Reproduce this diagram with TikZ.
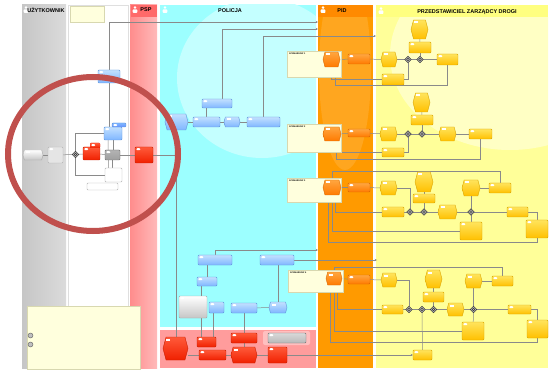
\documentclass[tikz,border=0pt]{standalone}
\usepackage{fontspec}
\setmainfont{Liberation Sans}
\usetikzlibrary{shapes.symbols,shapes.geometric,arrows.meta}
\pgfdeclarelayer{lanes}
\pgfdeclarelayer{edges}
\pgfdeclarelayer{front}
\pgfsetlayers{lanes,edges,main,front}
\definecolor{ytop}{HTML}{FFE45C}\definecolor{ybot}{HTML}{FFC000}\definecolor{ybd}{HTML}{D9A400}
\definecolor{otop}{HTML}{FFA640}\definecolor{obot}{HTML}{FF7A00}\definecolor{obd}{HTML}{D96800}
\definecolor{btop}{HTML}{C2E0FF}\definecolor{bbot}{HTML}{7FB6FF}\definecolor{bbd}{HTML}{5F95DA}
\definecolor{rtop}{HTML}{FF5A3A}\definecolor{rbot}{HTML}{F02000}\definecolor{rbd}{HTML}{C81E00}
\definecolor{gtop}{HTML}{C4C4C4}\definecolor{gbot}{HTML}{8C8C8C}\definecolor{gbd}{HTML}{707070}
\definecolor{notef}{HTML}{FFFFDD}\definecolor{notebd}{HTML}{D8D8B0}
\definecolor{lnc}{HTML}{8A8A8A}
\definecolor{circ}{HTML}{C0504D}
\definecolor{polc}{HTML}{9CFFFF}\definecolor{polh}{HTML}{C4FFFF}
\definecolor{pspc}{HTML}{FF9C9C}\definecolor{psph}{HTML}{FF6A6A}
\definecolor{pidc}{HTML}{FF9A00}\definecolor{pidh}{HTML}{FF8A00}
\definecolor{pzdc}{HTML}{FFFF99}\definecolor{pzdl}{HTML}{FFFFC4}\definecolor{pzdh}{HTML}{FFFF80}
\newcommand\bx[6]{\node[#1, minimum width={#5-#3}, minimum height={#6-#4}] (#2) at ({(#3+#5)/2},{(#4+#6)/2}) {};}
\newcommand\gwn[3]{\node[gwy] (#1) at (#2,#3) {};}
\newcommand\person[2]{\fill[white] (#1,#2-2.4) circle (1.4pt); \fill[white,rounded corners=0.8pt] (#1-2.3,#2-0.6) rectangle (#1+2.3,#2+3);}
\tikzset{
  base/.style={inner sep=0pt, outer sep=0pt, line width=0.4pt},
  icon/.style={path picture={\fill[white] ([xshift=1.3pt,yshift=-1.2pt]path picture bounding box.north west) rectangle ++(4pt,-2pt);}},
  iconh/.style={path picture={\fill[white] ([xshift=2.5pt,yshift=-1.5pt]path picture bounding box.north west) rectangle ++(4pt,-2pt);}},
  hexs/.style={signal, signal to=east and west, signal pointer angle=150},
  ytask/.style={base, rounded corners=1pt, draw=ybd, top color=ytop, bottom color=ybot, icon},
  yev/.style={base, hexs, draw=ybd, top color=ytop, bottom color=ybot, iconh},
  otask/.style={base, rounded corners=1pt, draw=obd, top color=otop, bottom color=obot, icon},
  oev/.style={base, hexs, draw=obd, top color=otop, bottom color=obot, iconh},
  btask/.style={base, rounded corners=1pt, draw=bbd, top color=btop, bottom color=bbot, icon},
  bev/.style={base, hexs, draw=bbd, top color=btop, bottom color=bbot, iconh},
  rtask/.style={base, rounded corners=1pt, draw=rbd, top color=rtop, bottom color=rbot, icon},
  rev/.style={base, hexs, draw=rbd, top color=rtop, bottom color=rbot, iconh},
  gtask/.style={base, rounded corners=1pt, draw=gbd, top color=gtop, bottom color=gbot, icon},
  gev/.style={base, hexs, draw=gray!70, top color=white, bottom color=gray!45, iconh},
  wtask/.style={base, rounded corners=1pt, draw=gray!60, fill=white},
  note/.style={base, draw=notebd, fill=notef},
  gwy/.style={base, diamond, minimum size=6.5pt, draw=gray!50!black, fill=gray!55,
     path picture={\draw[gray!30!black, line width=0.4pt] (path picture bounding box.center) circle (1.3pt);}},
  gear/.style={base, circle, minimum size=5pt, draw=gray!70!black, fill=gray!50},
  ln/.style={draw=lnc, line width=0.5pt},
  ar/.style={ln, -{Stealth[length=2.4pt,width=2.2pt]}},
  hdr/.style={inner sep=0pt, font=\bfseries\fontsize{5.5}{6}\selectfont},
  sct/.style={inner sep=0pt, anchor=north west, font=\bfseries\fontsize{2.2}{2.6}\selectfont}
}
\begin{document}
\begin{tikzpicture}[x=1pt,y=-1pt]
\useasboundingbox (0,0) rectangle (551,371);
\begin{pgfonlayer}{lanes}
\fill[white] (0,0) rectangle (551,371);
% UZYTKOWNIK lane
\shade[left color=gray!45, right color=gray!28] (22,5) rectangle (66,368);
% white lane
\draw[gray!25, fill=white] (68,5) rectangle (128,368);
% PSP lane
\shade[left color=pspc!90!red, right color=pspc!70!white] (130,5) rectangle (157,368);
\fill[psph] (131,5) rectangle (157,17);
% Policja
\fill[polc] (160,5) rectangle (316,327);
\begin{scope}
\clip (160,5) rectangle (316,327);
\fill[polh] (262,78) ellipse [x radius=85pt, y radius=80pt];
\end{scope}
\fill[pspc] (160,330) rectangle (316,368);
% PID
\fill[pidc] (318,5) rectangle (373,368);
\begin{scope}
\clip (318,18) rectangle (373,368);
\fill[white, opacity=0.12] (345,70) ellipse [x radius=26pt, y radius=100pt];
\end{scope}
\fill[pidh] (318,5) rectangle (373,17);
% PZD
\fill[pzdc] (376,5) rectangle (548,368);
\begin{scope}
\clip (376,18) rectangle (548,368);
\fill[pzdl] (510,55) ellipse [x radius=120pt, y radius=95pt];
\end{scope}
\fill[pzdh] (376,5) rectangle (548,17);
% header icons
\person{26}{10}
\person{135}{10}
\person{165}{10}
\person{323}{10}
\person{381}{11}
\end{pgfonlayer}

% headers
\node[hdr] (hU) at (46,10) {UŻYTKOWNIK};
\node[hdr] (hP) at (146,10) {PSP};
\node[hdr] (hPol) at (230,11) {POLICJA};
\node[hdr] (hPID) at (342,11) {PID};
\node[hdr] (hZ) at (467,12) {PRZEDSTAWICIEL ZARZĄDCY DROGI};

% top note in white lane
\bx{note}{tn}{70}{6}{104}{22}

% left region
\bx{gev}{u1}{23}{150}{43}{160}
\bx{wtask, fill=gray!20, icon}{u2}{48}{147}{63}{163}
\gwn{g0}{75.5}{154.5}
\bx{rtask}{w1}{83}{147}{100}{160}
\bx{rtask, draw=none, fill=red!90!black}{wl}{90}{143}{100}{148}
\bx{gtask, top color=gray!60, bottom color=gray!75}{w2}{105}{150}{120}{160}
\bx{btask}{w3}{104}{127}{122}{140}
\bx{btask, top color=bbot, bottom color=bbot!80!blue}{w3l}{112}{123}{126}{127}
\bx{wtask, icon}{w4}{105}{168}{122}{182}
\bx{wtask}{w4l}{87}{183}{118}{190}
\bx{btask}{w5}{98}{70}{120}{83}
\bx{rtask}{p1}{135}{147}{153}{163}

% Policja upper
\bx{bev}{c1}{165}{114}{188}{130}
\bx{btask}{c2}{193}{117}{220}{127}
\bx{bev}{c3}{224}{117}{240}{127}
\bx{btask}{c4}{247}{117}{280}{127}
\bx{btask}{c5}{202}{99}{232}{108}
% Policja lower
\bx{btask}{c6}{198}{255}{232}{265}
\bx{btask}{c7}{260}{255}{294}{265}
\bx{btask}{c8}{197}{277}{217}{286}
\bx{base, rounded corners=1pt, draw=gray!70, top color=white, bottom color=gray!45, icon}{c9}{179}{296}{207}{318}
\bx{btask}{c10}{209}{302}{224}{313}
\bx{btask}{c11}{231}{303}{257}{313}
\bx{bev}{c12}{269}{302}{287}{313}
% pink area
\fill[red!25, rounded corners=2pt] (263,331) rectangle (310,345);
\bx{rev}{r1}{163}{337}{188}{360}
\bx{rtask}{r2}{197}{337}{216}{347}
\bx{rtask}{r3}{199}{350}{226}{360}
\bx{rtask}{r4}{231}{333}{257}{343}
\bx{rev}{r5}{231}{347}{257}{363}
\bx{rtask}{r6}{268}{347}{287}{363}
\bx{gtask, top color=gray!30, bottom color=gray!55}{r7}{268}{333}{306}{343}

% scenario notes
\bx{note}{n1}{287}{51}{341}{77}
\node[sct] (s1) at (289,53) {SCENARIUSZ 1};
\bx{oev}{o1}{323}{52}{340}{67}
\bx{otask}{o1b}{348}{54}{370}{64}
\bx{note}{n2}{287}{124}{341}{152}
\node[sct] (s2) at (289,126) {SCENARIUSZ 2};
\bx{oev}{o2}{323}{127}{341}{141}
\bx{otask}{o2b}{348}{129}{370}{137}
\bx{note}{n3}{287}{178}{341}{202}
\node[sct] (s3) at (289,180) {SCENARIUSZ 3};
\bx{oev}{o3}{323}{180}{341}{195}
\bx{otask}{o3b}{348}{183}{370}{192}
\bx{note}{n4}{288}{270}{343}{292}
\node[sct] (s4) at (290,272) {SCENARIUSZ 4};
\bx{oev}{o4}{326}{272}{342}{285}
\bx{otask}{o4b}{348}{275}{370}{284}

% PZD row 1
\bx{yev}{a1}{381}{52}{397}{67}
\gwn{ga1}{408}{59.5}
\gwn{ga2}{420}{59.5}
\bx{ytask}{a2}{437}{54}{458}{65}
\bx{yev}{a3}{411}{20}{428}{39}
\bx{ytask}{a4}{409}{42}{431}{53}
\bx{ytask}{a5}{382}{74}{404}{85}
% PZD row 2
\bx{yev}{b1}{380}{127}{397}{141}
\gwn{gb1}{408}{134}
\gwn{gb2}{422}{134}
\bx{yev}{b2}{439}{127}{456}{141}
\bx{ytask}{b3}{469}{129}{492}{139}
\bx{yev}{b4}{413}{93}{430}{112}
\bx{ytask}{b5}{411}{115}{433}{125}
\bx{ytask}{b6}{382}{148}{404}{157}
% PZD row 3
\bx{yev}{d1}{380}{181}{397}{195}
\bx{ytask}{d2}{382}{207}{404}{217}
\gwn{gd1}{410}{212}
\gwn{gd2}{424}{212}
\bx{yev}{d3}{415}{172}{433}{192}
\bx{ytask}{d4}{413}{194}{435}{203}
\bx{yev}{d5}{438}{205}{457}{219}
\gwn{gd3}{471}{212}
\bx{yev}{d6}{462}{180}{480}{196}
\bx{ytask}{d7}{489}{183}{511}{193}
\bx{ytask}{d8}{507}{207}{528}{217}
\bx{ytask}{d9}{526}{220}{548}{238}
\bx{ytask}{d10}{460}{222}{482}{240}
% PZD row 4
\bx{yev}{e1}{381}{273}{397}{287}
\bx{ytask}{e2}{382}{305}{403}{314}
\gwn{ge1}{409}{309.5}
\gwn{ge2}{422}{309.5}
\gwn{ge3}{433.5}{309.5}
\bx{yev}{e3}{425}{270}{442}{288}
\bx{ytask}{e4}{423}{292}{444}{302}
\bx{yev}{e5}{447}{303}{464}{316}
\gwn{ge4}{473.5}{309.5}
\bx{yev}{e6}{465}{274}{482}{288}
\bx{ytask}{e7}{492}{276}{513}{286}
\bx{ytask}{e8}{508}{305}{531}{314}
\bx{ytask}{e9}{527}{320}{548}{338}
\bx{ytask}{e10}{462}{322}{484}{340}
\bx{ytask}{z4k}{413}{350}{432}{360}

% legend
\bx{note}{L}{27}{306}{140}{369}
\node[gear] (lg1) at (30.5,335.5) {};
\node[gear] (lg2) at (30.5,344.5) {};

% free ends
\coordinate (eA) at (318,22);
\coordinate (eB) at (318,29);
\coordinate (eC) at (376,36);
\coordinate (eD) at (318,250);
\coordinate (eE) at (377,260);

\begin{pgfonlayer}{edges}
% left
\draw[ln] (u1) -- (u2);
\draw[ln] (u2) -- (g0);
\draw[ln] (g0) -- (w1);
\draw[ln] (w1) -- (w2);
\draw[ln] (w2) -- (p1);
\draw[ln] (p1) -- (p1 -| c1.south);
\draw[ln] (g0.north) |- (w3.west);
\draw[ln] (g0.south) |- (w4.west);
\draw[ar] (w5.north) |- (eA);
\draw[ln] (w5.south) -- (w5.south |- w3.north);
\draw[ln] (w3.south) -- (w3.south |- w2.north);
\draw[ln] (w2.south) -- (w2.south |- w4.north);
\draw[ln] ([xshift=-5pt]w3.south) -- ([xshift=-5pt]w4.north);
% Policja
\draw[ln] (c1) -- (c2);
\draw[ln] (c2) -- (c3);
\draw[ln] (c3) -- (c4);
\draw[ln] (c2.north) -- (c2.north |- c5.south);
\draw[ar] ([xshift=5pt]c5.north) |- (eB);
\draw[ar] (c4.north) |- (eC);
\draw[ln] (c1.south) -- (c1.south |- r1.north);
\draw[ar] (c6.north) |- (eD);
\draw[ar] (c7.east) -- (eE);
\draw[ln] (c8.north) -- (c8.north |- c6.south);
\draw[ln] (c12.north) -- (c12.north |- c7.south);
\draw[ln] (c11) -- (c12);
\draw[ln] ([xshift=-6pt]c8.south) -- ([xshift=-6pt]c8.south |- r2.north);
\draw[ln] ([xshift=-3.5pt]c10.south) -- ([xshift=-3.5pt]c10.south |- r2.north);
\draw[ln] (c11.south) -- (c11.south |- r4.north);
\draw[ln] (r4) -- (r5);
\draw[ln] (r3.west -| r1.east) -- (r3.west);
\draw[ln] (r3) -- (r5);
\draw[ln] (r5) -- (r6);
\draw[ar] (r6) -- (z4k);
% row 1
\draw[ln] (o1) -- (o1b);
\draw[ln] (o1b) -- (a1);
\draw[ln] (a1) -- (ga1);
\draw[ln] (ga1) -- (ga2);
\draw[ln] (ga2) -- (a2);
\draw[ln] (a3) -- (a4);
\draw[ln] (a4) -- (ga2);
\draw[ln] (ga1.south) |- (a5.east);
\draw[ln] (a5.west) -| (o1.south);
\draw[ln] (a2.south) -- (a2.south |- 0,85) -| ([xshift=4pt]o1.south);
% row 2
\draw[ln] (o2) -- (o2b);
\draw[ln] (o2b) -- (b1);
\draw[ln] (b1) -- (gb1);
\draw[ln] (gb1) -- (gb2);
\draw[ln] (gb2) -- (b2);
\draw[ln] (b2) -- (b3);
\draw[ln] (b4) -- (b5);
\draw[ln] (b5) -- (gb2);
\draw[ln] (gb1.south) |- (b6.east);
\draw[ln] (b6.west) -| (o2.south);
\draw[ln] (b3.south) -- (b3.south |- 0,159) -| ([xshift=4pt]o2.south);
% row 3
\draw[ln] (o3) -- (o3b);
\draw[ln] (o3b) -- (d1);
\draw[ln] (d1.east) -| (gd1.north);
\draw[ln] ([xshift=3pt]o3.south) |- (d2.west);
\draw[ln] (d2) -- (gd1);
\draw[ln] (gd1) -- (gd2);
\draw[ln] (gd2) -- (d5);
\draw[ln] (d5) -- (gd3);
\draw[ln] (gd3) -- (d8);
\draw[ln] (d3) -- (d4);
\draw[ln] (d4) -- (gd2);
\draw[ln] (gd3) -- (d6);
\draw[ln] (d6) -- (d7);
\draw[ln] (d7.north) -- (d7.north |- 0,171) -| (o3.north);
\draw[ln] (d8.east) -| (d9.north);
\draw[ln] (gd3) -- (d10);
\draw[ln] (d10.west) -| (o3.south);
\draw[ln] (d9.south) -- (d9.south |- 0,242) -| ([xshift=-4pt]o3.south);
% row 4
\draw[ln] (o4) -- (o4b);
\draw[ln] (o4b) -- (e1);
\draw[ln] (e1.east) -| (ge1.north);
\draw[ln] ([xshift=3pt]o4.south) |- (e2.west);
\draw[ln] (e2) -- (ge1);
\draw[ln] (ge1) -- (ge2);
\draw[ln] (ge2) -- (ge3);
\draw[ln] (ge3) -- (e5);
\draw[ln] (e5) -- (ge4);
\draw[ln] (ge4) -- (e8);
\draw[ln] (e3) -- (e4);
\draw[ln] (e4) -- (ge3);
\draw[ln] (ge4) -- (e6);
\draw[ln] (e6) -- (e7);
\draw[ln] (e7.north) -- (e7.north |- 0,267) -| (o4.north);
\draw[ln] (e8.east) -| (e9.north);
\draw[ln] (ge4) -- (e10);
\draw[ln] (e10.west) -| (o4.south);
\draw[ln] (e9.south) -- (e9.south |- 0,342) -| ([xshift=-4pt]o4.south);
\draw[ln] (ge2) -- (z4k);
\end{pgfonlayer}

\begin{pgfonlayer}{front}
\draw[circ, line width=6pt] (93,154) ellipse [x radius=85pt, y radius=77pt];
\end{pgfonlayer}
\end{tikzpicture}
\end{document}
